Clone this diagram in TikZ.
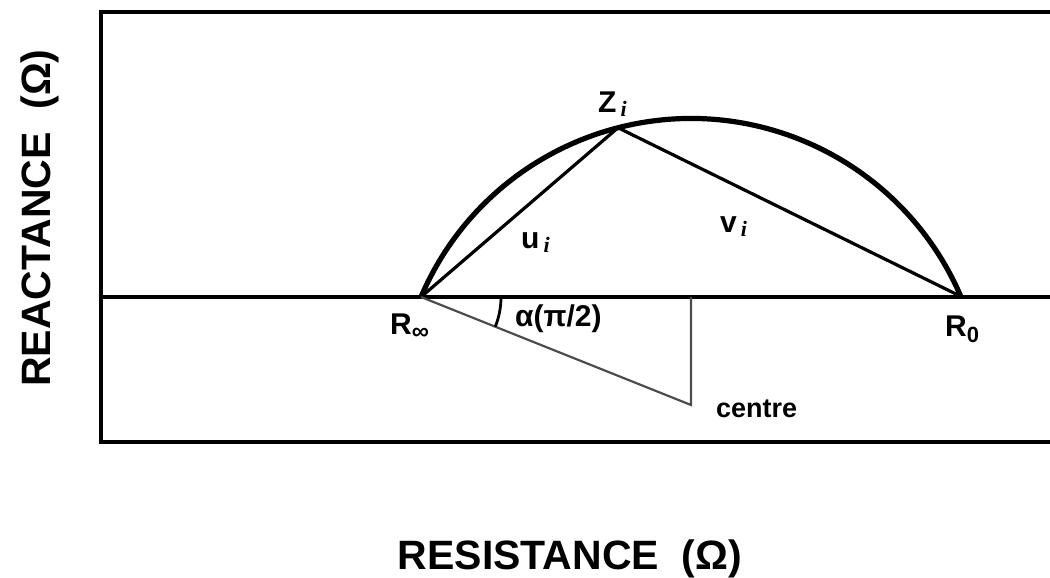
\documentclass[tikz,border=0pt]{standalone}
\usepackage{fontspec}
\setmainfont{Liberation Sans}
\newfontfamily\subfont{Liberation Serif}
\usetikzlibrary{calc}
\begin{document}
\begin{tikzpicture}[x=1pt,y=-1pt,
  frame/.style={line width=3.2pt},
  curve/.style={line width=5.2pt},
  chord/.style={line width=3.2pt},
  thin/.style={line width=2.2pt, black!70},
  lab/.style={font=\bfseries\fontsize{30}{30}\selectfont, inner sep=0pt},
  axlab/.style={font=\bfseries\fontsize{41}{41}\selectfont, inner sep=0pt}]
\useasboundingbox (0,0) rectangle (1050,578);
\newcommand{\isub}{\kern4pt\raisebox{-4pt}{\subfont\itshape\fontsize{22}{22}\selectfont i}}
% frame
\draw[frame] (1060,12) -- (101,12) -- (101,442) -- (1060,442);
\coordinate (Rinf) at (421,297);
\coordinate (Rz) at (962,297);
\coordinate (C) at (691,412);
\coordinate (centre) at (691,405);
\coordinate (foot) at (691,297);
\coordinate (axL) at (101,297);
\coordinate (axR) at (1060,297);
\coordinate (Zi) at ($(C)+(255.6:293.5)$);
% axis
\draw[frame] (axL) -- (axR);
% semicircle
\draw[curve] (Rinf) arc[start angle=203.07, end angle=336.9, radius=293.5];
% chords
\draw[chord] (Rinf) -- (Zi) -- (Rz);
% construction lines
\draw[thin] (Rinf) -- (centre) -- (foot);
\draw[line width=2.8pt] ($(Rinf)+(80,0)$) arc[start angle=0, end angle=21.8, radius=80];
% labels
\node[lab, anchor=base west] (lZ) at (598,112) {Z\isub};
\node[lab, anchor=base west] (lu) at (521,248) {u\isub};
\node[lab, anchor=base west] (lv) at (720,232) {v\isub};
\node[lab, anchor=base west] (lRi) at (390,334) {R\raisebox{-5pt}{\fontsize{24}{24}\selectfont ∞}};
\node[lab, anchor=base west] (lR0) at (945,336) {R\raisebox{-6pt}{\fontsize{22}{22}\selectfont 0}};
\node[lab, anchor=base west] (lal) at (515,326) {α(π/2)};
\node[lab, font=\bfseries\fontsize{27}{27}\selectfont, anchor=base west] (lc) at (716,417) {centre};
\node[axlab, anchor=base] (xl) at (570,569) {RESISTANCE\ \ (Ω)};
\node[axlab, rotate=90, anchor=base] (yl) at (50,218) {REACTANCE\ \ (Ω)};
\end{tikzpicture}
\end{document}
